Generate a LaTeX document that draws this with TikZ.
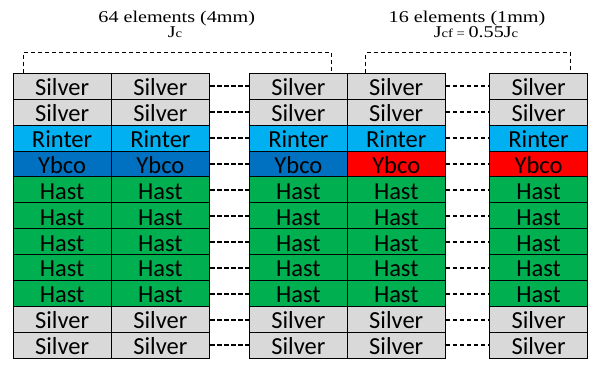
\documentclass[tikz,border=0pt]{standalone}
\usepackage{graphicx}
\usepackage{fontspec}
\setmainfont{Liberation Serif}
\newfontfamily\cellfont{Carlito}
\usetikzlibrary{calc}

\definecolor{silvergrey}{HTML}{D9D9D9}
\definecolor{rinterblue}{HTML}{00B0F0}
\definecolor{ybcoblue}{HTML}{0070C0}
\definecolor{ybcored}{HTML}{FF0000}
\definecolor{hastgreen}{HTML}{00B050}

\tikzset{
  layer/.style={draw=black, line width=0.8pt, inner sep=0pt,
    minimum height=25.94pt, text height=19pt, text depth=0.4pt,
    font=\cellfont\fontsize{24.5}{24.5}\selectfont, anchor=north west},
  link/.style={line width=2pt, dash pattern=on 4.5pt off 2.5pt},
  bracket/.style={line width=0.7pt, dash pattern=on 4pt off 3pt},
  title/.style={font=\fontsize{16.5}{16.5}\selectfont, anchor=base, inner sep=0pt}
}
\newcommand{\smallpart}[1]{{\fontsize{12}{12}\selectfont #1}}
\newcommand{\widetext}[1]{\scalebox{1.22}[1]{#1}}

\begin{document}
\begin{tikzpicture}[x=1pt, y=-1pt]
\useasboundingbox (0,0) rectangle (596,365);

% layer stack: label / fill of the 4mm part / fill of the 1mm part
\foreach \txt/\fl/\fr [count=\r] in {
    Silver/silvergrey/silvergrey,
    Silver/silvergrey/silvergrey,
    Rinter/rinterblue/rinterblue,
    Ybco/ybcoblue/ybcored,
    Hast/hastgreen/hastgreen,
    Hast/hastgreen/hastgreen,
    Hast/hastgreen/hastgreen,
    Hast/hastgreen/hastgreen,
    Hast/hastgreen/hastgreen,
    Silver/silvergrey/silvergrey,
    Silver/silvergrey/silvergrey} {
  \pgfmathsetmacro{\ytop}{72.7 + (\r-1)*25.94}
  \foreach \xl/\w/\side [count=\c] in {
      12.7/98/l, 110.7/98.6/l, 249.3/97.4/l, 346.7/98.3/r, 489/98.3/r} {
    \if\side l\def\fc{\fl}\else\def\fc{\fr}\fi
    \node[layer, fill=\fc, minimum width=\w pt] (L\r-\c) at (\xl,\ytop) {\txt};
  }
  \draw[link] (L\r-2.east) -- (L\r-3.west);
  \draw[link] (L\r-4.east) -- (L\r-5.west);
}

% brackets grouping the elements
\coordinate (b1a) at ($(L1-1.north west)+(10.3,0)$);
\coordinate (b1b) at ($(L1-3.north east)+(-15.7,0)$);
\coordinate (b2a) at ($(L1-4.north west)+(19,0)$);
\coordinate (b2b) at ($(L1-5.north east)+(-17.3,0)$);
\draw[bracket] (b1a) -- ++(0,-20) -| (b1b);
\draw[bracket] (b2a) -- ++(0,-20) -| (b2b);

% titles
\node[title] (t1) at (176.7,22.3) {\widetext{64 elements (4mm)}};
\node[title] (j1) at (175,37.2) {\widetext{J\smallpart{c}}};
\node[title] (t2) at (467,22.3) {\widetext{16 elements (1mm)}};
\node[title] (j2) at (476,37.2) {\widetext{J\smallpart{cf = }0.55J\smallpart{c}}};
\end{tikzpicture}
\end{document}
